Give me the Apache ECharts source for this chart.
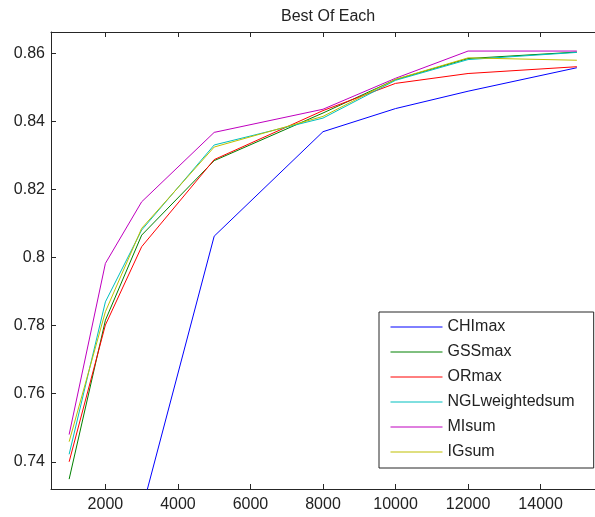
<!DOCTYPE html>
<html>
<head>
<meta charset="utf-8">
<script src="https://cdn.jsdelivr.net/npm/echarts@6/dist/echarts.min.js"></script>
<style>
html, body { margin: 0; padding: 0; background: #fff; }
#chart { width: 595px; height: 517px; }
</style>
</head>
<body>
<div id="chart"></div>
<script>
// sample sizes (x) and accuracy of each method
var xVals = [1000, 2000, 3000, 5000, 8000, 10000, 12000, 15000];
var CHImax = [0.680, 0.705, 0.7256, 0.8063, 0.8370, 0.8438, 0.8489, 0.8558];
var GSSmax = [0.7349, 0.7816, 0.8066, 0.8285, 0.8425, 0.8523, 0.8585, 0.8604];
var ORmax = [0.7400, 0.7802, 0.8032, 0.8288, 0.8432, 0.8512, 0.8541, 0.8561];
var NGLweightedsum = [0.7422, 0.7870, 0.8081, 0.8331, 0.8410, 0.8521, 0.8582, 0.8603];
var MIsum = [0.7480, 0.7983, 0.8164, 0.8368, 0.8436, 0.8527, 0.8607, 0.8607];
var IGsum = [0.7459, 0.7841, 0.8086, 0.8325, 0.8415, 0.8524, 0.8587, 0.8580];

var names = ['CHImax', 'GSSmax', 'ORmax', 'NGLweightedsum', 'MIsum', 'IGsum'];
var values = [CHImax, GSSmax, ORmax, NGLweightedsum, MIsum, IGsum];
var colors = ['#0000ff', '#008000', '#ff0000', '#00bfbf', '#bf00bf', '#bfbf00'];

var xTicks = [2000, 4000, 6000, 8000, 10000, 12000, 14000];
var yTicks = [0.74, 0.76, 0.78, 0.8, 0.82, 0.84, 0.86];

function pairs(ys) {
	var out = [];
	for (var i = 0; i < xVals.length; i++) out.push([xVals[i], ys[i]]);
	return out;
}

var chart = echarts.init(document.getElementById('chart'));

var font = 'Liberation Sans, Arial, sans-serif';
var axisCol = '#262626';

var series = [];
for (var i = 0; i < names.length; i++) {
	series.push({
		name: names[i],
		type: 'line',
		data: pairs(values[i]),
		symbol: 'none',
		clip: true,
		lineStyle: { color: colors[i], width: 1 },
		itemStyle: { color: colors[i] }
	});
}

var option = {
	animation: false,
	backgroundColor: '#fff',
	title: {
		text: 'Best Of Each',
		left: 276,
		top: 4,
		textStyle: { fontFamily: font, fontSize: 16, fontWeight: 'normal', color: '#222' }
	},
	grid: { left: 51, top: 32, width: 555, height: 457 },
	legend: {
		orient: 'vertical',
		left: 379,
		top: 312,
		data: names,
		itemWidth: 52,
		itemHeight: 16,
		itemGap: 9,
		padding: [7, 19, 8, 11],
		borderColor: axisCol,
		borderWidth: 1,
		backgroundColor: '#fff',
		itemStyle: { opacity: 0 },
		lineStyle: { width: 1, opacity: 1 },
		textStyle: { fontFamily: font, fontSize: 16, lineHeight: 16, color: '#222' }
	},
	xAxis: [{
		type: 'value',
		min: 500,
		max: 15500,
		position: 'bottom',
		splitLine: { show: false },
		axisLine: { lineStyle: { color: axisCol, width: 1 } },
		axisTick: { inside: true, length: 5, customValues: xTicks, lineStyle: { color: axisCol } },
		axisLabel: {
			customValues: xTicks, margin: 8, fontFamily: font, fontSize: 16, color: '#222',
			formatter: function(v) { return String(v); }
		}
	}, {
		type: 'value',
		min: 500,
		max: 15500,
		position: 'top',
		splitLine: { show: false },
		axisLine: { lineStyle: { color: axisCol, width: 1 } },
		axisTick: { inside: true, length: 5, customValues: xTicks, lineStyle: { color: axisCol } },
		axisLabel: { show: false }
	}],
	yAxis: {
		type: 'value',
		min: 0.732,
		max: 0.8663,
		splitLine: { show: false },
		axisLine: { show: true, lineStyle: { color: axisCol, width: 1 } },
		axisTick: { show: true, inside: true, length: 5, customValues: yTicks, lineStyle: { color: axisCol } },
		axisLabel: {
			customValues: yTicks,
			margin: 6,
			fontFamily: font,
			fontSize: 16,
			color: '#222',
			formatter: function(v) { return String(+v.toFixed(2)); }
		}
	},
	series: series
};

chart.setOption(option);
</script>
</body>
</html>
